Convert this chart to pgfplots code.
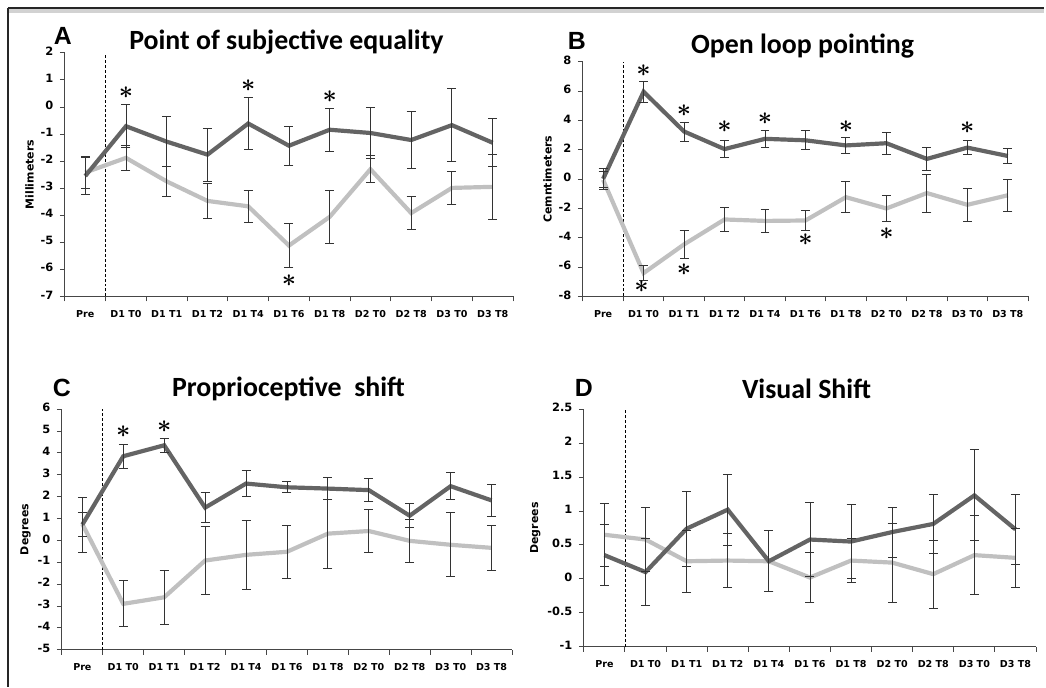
\documentclass[border=0pt]{standalone}
\usepackage{pgfplots}
\pgfplotsset{compat=1.18}
\usepackage{pgfplotstable}
\usepackage{fontspec}
\setmainfont{Carlito}
\newfontfamily\tickfont{DejaVu Sans}
\newfontfamily\letterfont{Liberation Sans}
\definecolor{darkline}{RGB}{100,100,100}
\definecolor{lightline}{RGB}{192,192,192}
\definecolor{axcol}{RGB}{70,70,70}

\pgfplotstableread{
x d de l le
0 -2.55 0.68 -2.42 0.60
1 -0.71 0.80 -1.88 0.45
2 -1.28 0.92 -2.75 0.55
3 -1.76 0.98 -3.47 0.66
4 -0.61 0.96 -3.67 0.58
5 -1.43 0.73 -5.12 0.80
6 -0.84 0.80 -4.06 0.98
7 -0.96 0.93 -2.30 0.50
8 -1.22 1.04 -3.92 0.60
9 -0.67 1.35 -2.99 0.62
10 -1.32 0.88 -2.95 1.20
}\tabA
\pgfplotstableread{
x d de l le
0 0.02 0.70 -0.05 0.55
1 5.96 0.70 -6.41 0.50
2 3.25 0.65 -4.45 0.94
3 2.05 0.60 -2.75 0.85
4 2.75 0.58 -2.85 0.77
5 2.65 0.65 -2.82 0.66
6 2.30 0.55 -1.23 1.07
7 2.45 0.75 -2.00 0.88
8 1.38 0.76 -0.95 1.30
9 2.15 0.47 -1.75 1.13
10 1.58 0.48 -1.10 1.10
}\tabB
\pgfplotstableread{
x d de l le
0 0.72 1.25 0.75 0.55
1 3.85 0.55 -2.90 1.05
2 4.35 0.33 -2.60 1.23
3 1.50 0.70 -0.92 1.55
4 2.60 0.58 -0.66 1.58
5 2.43 0.25 -0.52 1.20
6 2.37 0.50 0.31 1.57
7 2.30 0.53 0.43 0.97
8 1.13 0.55 -0.02 0.97
9 2.48 0.62 -0.20 1.46
10 1.83 0.75 -0.34 1.03
}\tabC
\pgfplotstableread{
x d de l le
0 0.35 0.45 0.65 0.46
1 0.10 0.49 0.58 0.47
2 0.74 0.55 0.26 0.46
3 1.02 0.52 0.27 0.40
4 0.26 0.45 0.26 0.45
5 0.58 0.54 0.02 0.37
6 0.55 0.55 0.27 0.32
7 0.69 0.37 0.24 0.58
8 0.81 0.43 0.07 0.50
9 1.23 0.67 0.35 0.58
10 0.73 0.52 0.31 0.44
}\tabD

\newcommand{\astsym}{{\fontsize{38}{38}\selectfont\boldmath$\ast$}}
\pgfplotsset{
  panel/.style={
    scale only axis,
    clip=false,
    xmin=-0.5, xmax=10.5,
    axis x line*=bottom, axis y line*=left,
    axis line style={axcol, line width=1.1bp},
    xtick={0,...,10},
    xticklabels={Pre,D1 T0,D1 T1,D1 T2,D1 T4,D1 T6,D1 T8,D2 T0,D2 T8,D3 T0,D3 T8},
    major x tick style={draw=none},
    minor xtick={-0.5,0.5,...,10.5},
    minor x tick style={axcol, line width=1bp},
    minor tick length=5bp,
    major tick length=5bp,
    y tick style={axcol, line width=1bp},
    tick align=outside,
    typeset ticklabels with strut,
    xticklabel style={font=\tickfont\bfseries\fontsize{9.6}{11}\selectfont, yshift=-5bp},
    yticklabel style={font=\tickfont\bfseries\fontsize{11.5}{13}\selectfont, xshift=-3bp},
    ylabel style={font=\tickfont\bfseries\fontsize{11}{13}\selectfont},
  },
  dk/.style={color=darkline, line width=4.2bp, mark=none},
  lt/.style={color=lightline, line width=4.2bp, mark=none},
  eb/.style={draw=none, mark=none, forget plot,
    error bars/.cd, y dir=both, y explicit,
    error bar style={draw=black!80, line width=0.9bp},
    error mark options={rotate=90, mark size=4.5bp, draw=black!80, line width=0.9bp}},
  dsh/.style={color=black, line width=0.8bp, densely dashed},
}

\begin{document}
\begin{tikzpicture}
\path (0,0) rectangle (1046bp,688bp);
% frame
\draw[gray!35, line width=4bp] (8bp,676.5bp) -- (1046bp,676.5bp);
\draw[black!85, line width=1.1bp] (8bp,680bp) -- (1046bp,680bp);
\draw[black!85, line width=1.1bp] (8bp,0bp) -- (8bp,680bp);

% ---------- A ----------
\begin{axis}[panel, at={(65bp,391bp)}, anchor=south west, width=449bp, height=244bp,
  ymin=-7, ymax=2, ytick={-7,...,2},
  yticklabels={-7,-6,-5,-4,-3,-2,-1,0,1,2},
  ylabel={Millimeters}]
\addplot[dsh] coordinates {(0.5,-7) (0.5,2)};
\addplot[lt] table[x=x,y=l] {\tabA};
\addplot[dk] table[x=x,y=d] {\tabA};
\addplot[eb] table[x=x,y=l,y error=le] {\tabA};
\addplot[eb] table[x=x,y=d,y error=de] {\tabA};
\coordinate (a1) at (axis cs:1,0.54);
\coordinate (a2) at (axis cs:4,0.79);
\coordinate (a3) at (axis cs:6,0.39);
\coordinate (a4) at (axis cs:5,-6.43);
\end{axis}

% ---------- B ----------
\begin{axis}[panel, at={(584bp,391bp)}, anchor=south west, width=446bp, height=235bp,
  ymin=-8, ymax=8, ytick={-8,-6,...,8},
  yticklabels={-8,-6,-4,-2,0,2,4,6,8},
  ylabel={Cemntimeters}]
\addplot[dsh] coordinates {(0.5,-8) (0.5,8)};
\addplot[lt] table[x=x,y=l] {\tabB};
\addplot[dk] table[x=x,y=d] {\tabB};
\addplot[eb] table[x=x,y=l,y error=le] {\tabB};
\addplot[eb] table[x=x,y=d,y error=de] {\tabB};
\coordinate (b1) at (axis cs:1,7.4);
\coordinate (b2) at (axis cs:0.95,-7.3);
\coordinate (b3) at (axis cs:2,4.7);
\coordinate (b4) at (axis cs:2,-6.2);
\coordinate (b5) at (axis cs:3,3.6);
\coordinate (b6) at (axis cs:4,4.1);
\coordinate (b7) at (axis cs:5,-4.1);
\coordinate (b8) at (axis cs:6,3.6);
\coordinate (b9) at (axis cs:7,-3.7);
\coordinate (b10) at (axis cs:9,3.5);
\end{axis}

% ---------- C ----------
\begin{axis}[panel, at={(62bp,37bp)}, anchor=south west, width=451bp, height=241bp,
  ymin=-5, ymax=6, ytick={-5,...,6},
  yticklabels={-5,-4,-3,-2,-1,0,1,2,3,4,5,6},
  ylabel={Degrees}]
\addplot[dsh] coordinates {(0.5,-5) (0.5,6)};
\addplot[lt] table[x=x,y=l] {\tabC};
\addplot[dk] table[x=x,y=d] {\tabC};
\addplot[eb] table[x=x,y=l,y error=le] {\tabC};
\addplot[eb] table[x=x,y=d,y error=de] {\tabC};
\coordinate (c1) at (axis cs:1,4.97);
\coordinate (c2) at (axis cs:2,5.2);
\end{axis}

% ---------- D ----------
\begin{axis}[panel, at={(585bp,40bp)}, anchor=south west, width=453bp, height=238bp,
  ymin=-1, ymax=2.5, ytick={-1,-0.5,0,0.5,1,1.5,2,2.5},
  yticklabels={-1,-0.5,0,0.5,1,1.5,2,2.5},
  ylabel={Degrees}]
\addplot[dsh] coordinates {(0.5,-1) (0.5,2.5)};
\addplot[lt] table[x=x,y=l] {\tabD};
\addplot[dk] table[x=x,y=d] {\tabD};
\addplot[eb] table[x=x,y=l,y error=le] {\tabD};
\addplot[eb] table[x=x,y=d,y error=de] {\tabD};
\end{axis}

% significance asterisks
\foreach \p in {a1,a2,a3,a4,b1,b2,b3,b4,b5,b6,b7,b8,b9,b10,c1,c2}
  \node at (\p) {\astsym};

% titles and panel letters
\node[anchor=base, font=\bfseries\fontsize{28}{30}\selectfont] at (287bp,638bp) {Point of subjective equality};
\node[anchor=base, font=\bfseries\fontsize{28}{30}\selectfont] at (804bp,634bp) {Open loop pointing};
\node[anchor=base, font=\bfseries\fontsize{28}{30}\selectfont] at (289bp,291bp) {Proprioceptive\ \ shift};
\node[anchor=base, font=\bfseries\fontsize{28}{30}\selectfont] at (808bp,289bp) {Visual Shift};
\node[anchor=base, font=\letterfont\bfseries\fontsize{25}{27}\selectfont] at (63bp,643bp) {A};
\node[anchor=base, font=\letterfont\bfseries\fontsize{25}{27}\selectfont] at (578bp,638bp) {B};
\node[anchor=base, font=\letterfont\bfseries\fontsize{25}{27}\selectfont] at (62bp,291bp) {C};
\node[anchor=base, font=\letterfont\bfseries\fontsize{25}{27}\selectfont] at (585bp,291bp) {D};
\end{tikzpicture}
\end{document}
